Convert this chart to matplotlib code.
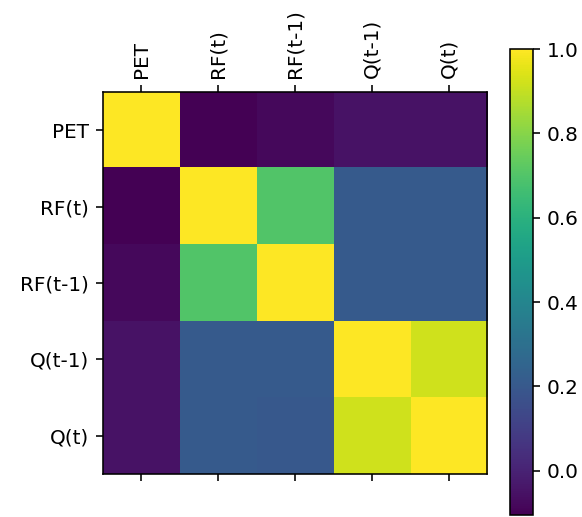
import matplotlib
matplotlib.use("Agg")
import matplotlib.pyplot as plt
import numpy as np

labels = ["PET", "RF(t)", "RF(t-1)", "Q(t-1)", "Q(t)"]

# correlation rows
pet = [1.00, -0.105, -0.08, -0.05, -0.05]
rf_t = [-0.105, 1.00, 0.70, 0.21, 0.21]
rf_t1 = [-0.08, 0.70, 1.00, 0.21, 0.21]
q_t1 = [-0.05, 0.21, 0.21, 1.00, 0.92]
q_t = [-0.05, 0.21, 0.20, 0.92, 1.00]

corr = np.array([pet, rf_t, rf_t1, q_t1, q_t])

dpi = 144
fig = plt.figure(figsize=(582 / dpi, 517 / dpi), dpi=dpi)
ax = fig.add_axes([0.177, 0.083, 0.660, 0.739])
cax = fig.add_axes([0.876, 0.004, 0.0395, 0.901])

im = ax.imshow(corr, cmap="viridis", aspect="auto", interpolation="nearest")
ax.set_xticks(range(len(labels)))
ax.set_yticks(range(len(labels)))
ax.set_xticklabels(labels, rotation=90)
ax.set_yticklabels(labels)
ax.xaxis.tick_top()
ax.tick_params(axis="x", bottom=True)

fig.colorbar(im, cax=cax)
fig.savefig("out.png", dpi=dpi)
